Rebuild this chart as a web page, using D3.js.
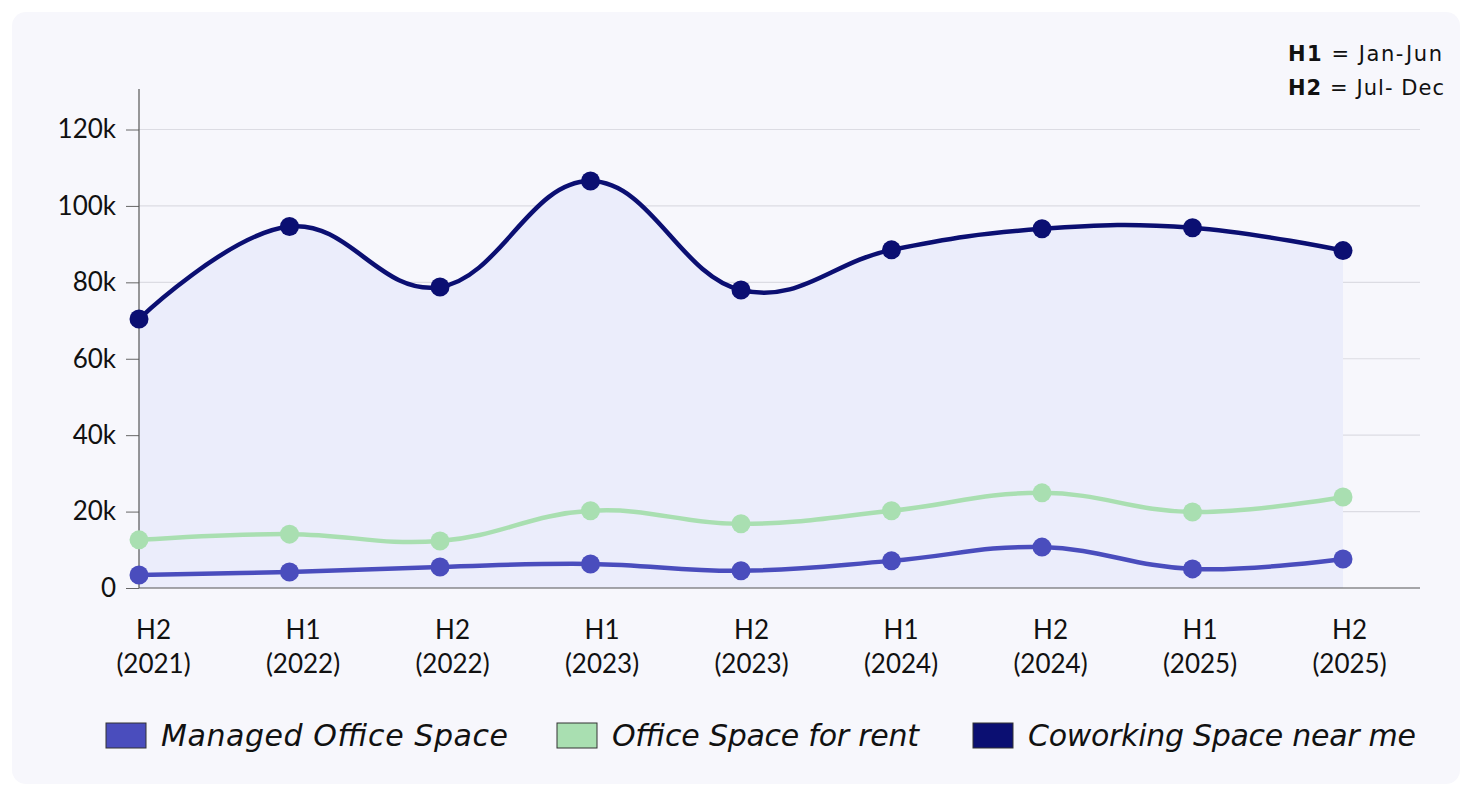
<!DOCTYPE html>
<html>
<head>
<meta charset="utf-8">
<script src="https://cdn.jsdelivr.net/npm/d3@7"></script>
<style>
  html, body { margin: 0; padding: 0; background: #ffffff; }
  svg { display: block; }
</style>
</head>
<body>
<svg id="chart" width="1470" height="792"></svg>
<script>
// ---- data ----
const periodLabels = ["H2", "H1", "H2", "H1", "H2", "H1", "H2", "H1", "H2"];
const yearLabels = ["(2021)", "(2022)", "(2022)", "(2023)", "(2023)", "(2024)", "(2024)", "(2025)", "(2025)"];
const managedOffice = [3400, 4200, 5500, 6300, 4500, 7100, 10700, 5000, 7600];
const officeForRent = [12600, 14100, 12300, 20200, 16800, 20200, 24900, 19900, 23800];
const coworkingNearMe = [70400, 94600, 78800, 106500, 78000, 88500, 94000, 94300, 88300];
const yTickValues = [0, 20000, 40000, 60000, 80000, 100000, 120000];
const yTickLabels = ["0", "20k", "40k", "60k", "80k", "100k", "120k"];
const seriesNames = ["Managed Office Space", "Office Space for rent", "Coworking Space near me"];

(function () {
const colors = { managed: "#4a4dbd", rent: "#a9dfb1", cowork: "#0b0f72" };
const font = "Lato, 'Open Sans', sans-serif";
const wideFont = "'DejaVu Sans', sans-serif";

const svg = d3.select("#chart");

// card background
svg.append("rect").attr("x", 12).attr("y", 12).attr("width", 1448).attr("height", 772)
  .attr("rx", 14).attr("fill", "#f7f7fc");

const pL = 139, pR = 1420, pT = 89, pB = 588;
const x = d3.scalePoint().domain(d3.range(periodLabels.length)).range([139, 1343]);
const xLab = d3.scalePoint().domain(d3.range(periodLabels.length)).range([153, 1349]);
const y = d3.scaleLinear().domain([0, 130600]).range([pB, pT]);

// gridlines
svg.append("g").selectAll("line").data(yTickValues.filter(v => v > 0)).join("line")
  .attr("x1", pL).attr("x2", pR)
  .attr("y1", d => y(d)).attr("y2", d => y(d))
  .attr("stroke", "#dcdce3").attr("stroke-width", 1.2);

const curve = d3.curveCardinal.tension(-0.2);

// area under coworking
const area = d3.area().x((d, i) => x(i)).y0(y(0)).y1(d => y(d)).curve(curve);
svg.append("path").datum(coworkingNearMe).attr("d", area).attr("fill", "#ebedfb");

// y axis
const yAxis = d3.axisLeft(y).tickValues(yTickValues).tickFormat((d, i) => yTickLabels[i]).tickSize(13).tickPadding(10);
const gy = svg.append("g").attr("transform", `translate(${pL},0)`).call(yAxis);
gy.select(".domain").remove();
gy.selectAll(".tick line").attr("stroke", "#666").attr("stroke-width", 1);
gy.selectAll(".tick text").attr("font-family", font).attr("font-size", 26).attr("fill", "#111");
svg.append("line").attr("x1", pL).attr("x2", pL).attr("y1", pT).attr("y2", pB)
  .attr("stroke", "#555").attr("stroke-width", 1.2);
svg.append("line").attr("x1", pL).attr("x2", pR).attr("y1", pB).attr("y2", pB)
  .attr("stroke", "#555").attr("stroke-width", 1.2);

// x axis labels
const xAxis = d3.axisBottom(xLab).tickSize(0).tickFormat(() => "");
const gx = svg.append("g").attr("transform", `translate(0,${pB})`).call(xAxis);
gx.select(".domain").remove();
gx.selectAll(".tick").each(function(d) {
  const t = d3.select(this).append("text").attr("font-family", font).attr("font-size", 26)
    .attr("fill", "#111").attr("text-anchor", "middle");
  t.append("tspan").attr("x", 0).attr("y", 51).text(periodLabels[d]);
  t.append("tspan").attr("x", 0).attr("y", 85).text(yearLabels[d]);
});

// lines and dots
const line = d3.line().x((d, i) => x(i)).y(d => y(d)).curve(curve);
const series = [
  { data: officeForRent, color: colors.rent },
  { data: managedOffice, color: colors.managed },
  { data: coworkingNearMe, color: colors.cowork }
];
series.forEach(s => {
  svg.append("path").datum(s.data).attr("d", line).attr("fill", "none")
    .attr("stroke", s.color).attr("stroke-width", 4.5);
  svg.append("g").selectAll("circle").data(s.data).join("circle")
    .attr("cx", (d, i) => x(i)).attr("cy", d => y(d)).attr("r", 9.5).attr("fill", s.color);
});

// legend
const legendItems = [
  { name: seriesNames[0], color: colors.managed, x: 106, w: 347 },
  { name: seriesNames[1], color: colors.rent, x: 557, w: 307 },
  { name: seriesNames[2], color: colors.cowork, x: 973, w: 388 }
];
legendItems.forEach(l => {
  svg.append("rect").attr("x", l.x).attr("y", 723).attr("width", 40).attr("height", 25)
    .attr("fill", l.color).attr("stroke", "#333").attr("stroke-width", 1);
  svg.append("text").attr("x", l.x + 55).attr("y", 746).attr("font-family", wideFont)
    .attr("font-style", "italic").attr("font-size", 30).attr("fill", "#111")
    .attr("textLength", l.w).attr("lengthAdjust", "spacing").text(l.name);
});

// note
const note = svg.append("g").attr("font-family", wideFont).attr("font-size", 21).attr("fill", "#111");
const n1 = note.append("text").attr("x", 1288).attr("y", 61)
  .attr("textLength", 154).attr("lengthAdjust", "spacing");
n1.append("tspan").attr("font-weight", "bold").text("H1");
n1.append("tspan").text(" = Jan-Jun");
const n2 = note.append("text").attr("x", 1288).attr("y", 95)
  .attr("textLength", 156).attr("lengthAdjust", "spacing");
n2.append("tspan").attr("font-weight", "bold").text("H2");
n2.append("tspan").text(" = Jul- Dec");
})();
</script>
</body>
</html>
